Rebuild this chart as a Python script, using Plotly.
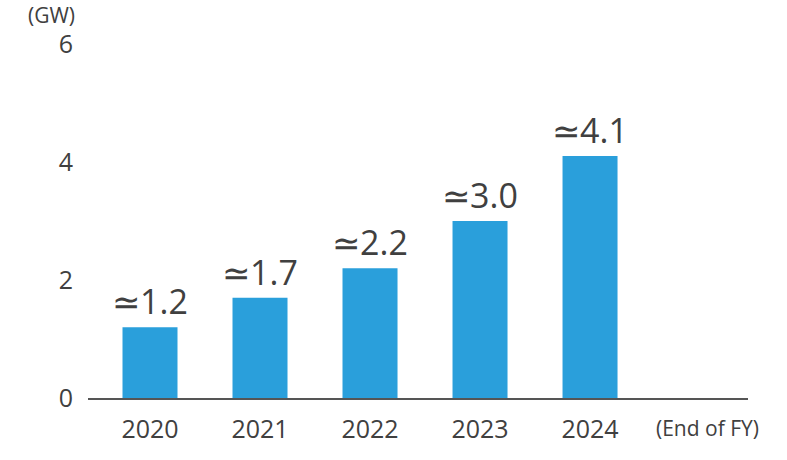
import plotly.graph_objects as go

years = ["2020", "2021", "2022", "2023", "2024"]
values = [1.2, 1.7, 2.2, 3.0, 4.1]
value_labels = ["≃1.2", "≃1.7", "≃2.2", "≃3.0", "≃4.1"]
y_ticks = [0, 2, 4, 6]

BAR = "#2A9FDB"
TXT = "#404040"
FONT = "Open Sans"

xpos = list(range(len(years)))

fig = go.Figure()
fig.add_trace(go.Bar(
    x=xpos, y=values, width=0.5,
    marker=dict(color=BAR, line=dict(width=0)),
    text=value_labels, textposition="outside", constraintext="none",
    textfont=dict(family=FONT, size=34, color=TXT),
    cliponaxis=False, hoverinfo="skip",
))

fig.update_layout(
    width=787, height=460,
    margin=dict(l=88, r=39, t=44, b=62),
    paper_bgcolor="white", plot_bgcolor="white",
    showlegend=False,
    font=dict(family=FONT, color=TXT),
    uniformtext=dict(mode=False),
    xaxis=dict(
        range=[-0.5636, 5.436], tickmode="array", tickvals=xpos, ticktext=years,
        showgrid=False, zeroline=False, showline=True, linecolor="#555555", linewidth=2,
        ticks="", tickfont=dict(family=FONT, size=25, color=TXT), ticklabelstandoff=8,
        fixedrange=True,
    ),
    yaxis=dict(
        range=[0, 6], tickmode="array", tickvals=y_ticks,
        showgrid=False, zeroline=False, showline=False, ticks="",
        tickfont=dict(family=FONT, size=25, color=TXT), ticklabelstandoff=14,
        fixedrange=True,
    ),
    annotations=[
        dict(text="(GW)", xref="paper", yref="paper", x=-0.055, y=1.082,
             xanchor="center", yanchor="middle", showarrow=False,
             font=dict(family=FONT, size=21, color=TXT)),
        dict(text="(End of FY)", xref="x", yref="paper", x=5.07, y=0,
             xanchor="center", yanchor="middle", yshift=-30, showarrow=False,
             font=dict(family=FONT, size=21, color=TXT)),
    ],
)

fig.write_html("out.html")
